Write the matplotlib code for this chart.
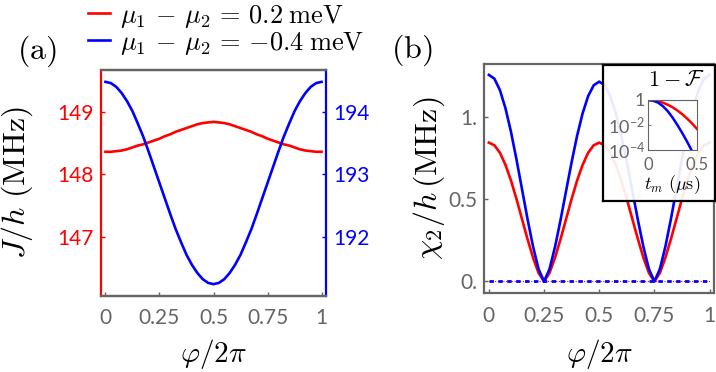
import numpy as np
import matplotlib
matplotlib.use('Agg')
import matplotlib.pyplot as plt
from matplotlib.ticker import FixedLocator, FixedFormatter, NullLocator

plt.rcParams['mathtext.fontset'] = 'cm'
plt.rcParams['font.family'] = ['Lato', 'DejaVu Sans']

# ---------------- data ----------------
phi = np.linspace(0, 1, 41)

# panel (a): J/h (MHz)
J_red = [148.36, 148.36, 148.37, 148.38, 148.40, 148.43, 148.46, 148.48, 148.51, 148.54,
         148.57, 148.61, 148.64, 148.68, 148.71, 148.74, 148.77, 148.80, 148.82, 148.83,
         148.84,
         148.83, 148.82, 148.80, 148.77, 148.74, 148.71, 148.68, 148.64, 148.61, 148.57,
         148.54, 148.51, 148.48, 148.46, 148.43, 148.40, 148.38, 148.37, 148.36, 148.36]
J_blue = [194.48, 194.46, 194.40, 194.30, 194.17, 194.01, 193.81, 193.60, 193.36, 193.11,
          192.86, 192.61, 192.36, 192.12, 191.91, 191.71, 191.55, 191.42, 191.32, 191.26,
          191.24,
          191.26, 191.32, 191.42, 191.55, 191.71, 191.91, 192.12, 192.36, 192.61, 192.86,
          193.11, 193.36, 193.60, 193.81, 194.01, 194.17, 194.30, 194.40, 194.46, 194.48]

# panel (b): chi_2/h (MHz)
chi_red = [0.842, 0.826, 0.781, 0.708, 0.613, 0.501, 0.379, 0.258, 0.145, 0.052, 0.0,
           0.052, 0.145, 0.258, 0.379, 0.501, 0.613, 0.708, 0.781, 0.826, 0.842,
           0.826, 0.781, 0.708, 0.613, 0.501, 0.379, 0.258, 0.145, 0.052, 0.0,
           0.052, 0.145, 0.258, 0.379, 0.501, 0.613, 0.708, 0.781, 0.826, 0.842]
chi_blue = [1.253, 1.230, 1.161, 1.052, 0.909, 0.741, 0.561, 0.380, 0.213, 0.076, 0.0,
            0.076, 0.211, 0.374, 0.550, 0.724, 0.885, 1.021, 1.125, 1.190, 1.212,
            1.190, 1.125, 1.021, 0.885, 0.724, 0.550, 0.374, 0.211, 0.076, 0.0,
            0.076, 0.213, 0.380, 0.561, 0.741, 0.909, 1.052, 1.161, 1.230, 1.253]
chi_ref = [0.0, 0.0]
phi_ref = [0.0, 1.0]

# inset: 1 - F vs t_m (us)
t_m = [0.0, 0.05, 0.10, 0.15, 0.20, 0.25, 0.30, 0.35, 0.40, 0.45, 0.50]
infid_red = [1.0, 0.955, 0.813, 0.617, 0.427, 0.263, 0.145, 0.0724, 0.0324, 0.0132, 0.00479]
infid_blue = [1.0, 0.891, 0.631, 0.331, 0.132, 0.0398, 0.0100, 0.00224, 0.000447, 0.0000794,
              0.00001]
infid_ref = [1.0, 1.0]
t_ref = [0.0, 0.5]

x_ticks = [0, 0.25, 0.5, 0.75, 1]
x_ticklabels = ['0', '0.25', '0.5', '0.75', '1']
red_ticks = [147, 148, 149]
blue_ticks = [192, 193, 194]
chi_ticks = [0, 0.5, 1.0]
chi_ticklabels = ['0.', '0.5', '1.']
legend_labels = [r'$\mu_1\,-\,\mu_2\,=\,0.2\;\mathrm{meV}$',
                 r'$\mu_1\,-\,\mu_2\,=\,{-0.4}\;\mathrm{meV}$']

# ---------------- style ----------------
RED = '#ff0000'
BLUE = '#0000ff'
GRAY = '#656565'
W, H = 716, 372
lw = 1.9
TICK_FS = 15

fig = plt.figure(figsize=(W / 100, H / 100), dpi=100)


def frac(l, t, r, b):
    return [l / W, 1 - b / H, (r - l) / W, (b - t) / H]


# ---------- panel (a) ----------
axa = fig.add_axes(frac(100.5, 70, 326.5, 296))
axa2 = axa.twinx()
l_red, = axa.plot(phi, J_red, color=RED, lw=lw)
l_blue, = axa2.plot(phi, J_blue, color=BLUE, lw=lw)
axa.set_xlim(-0.023, 1.023)
axa.set_ylim(146.05, 149.67)
axa2.set_ylim(191.05, 194.67)
axa.xaxis.set_major_locator(FixedLocator(x_ticks))
axa.xaxis.set_major_formatter(FixedFormatter(x_ticklabels))
axa.yaxis.set_major_locator(FixedLocator(red_ticks))
axa2.yaxis.set_major_locator(FixedLocator(blue_ticks))
for sp in ['top', 'bottom']:
    axa.spines[sp].set_color(GRAY)
    axa2.spines[sp].set_color(GRAY)
axa.spines['left'].set_color(RED)
axa2.spines['left'].set_visible(False)
axa.spines['right'].set_visible(False)
axa2.spines['right'].set_color(BLUE)
for a in (axa, axa2):
    for sp in a.spines.values():
        sp.set_linewidth(1.6)
axa.tick_params(axis='x', direction='in', length=3, width=1, colors=GRAY, labelsize=TICK_FS, pad=9)
axa.tick_params(axis='y', direction='in', length=3, width=1, colors=RED, labelsize=TICK_FS, pad=5)
axa2.tick_params(axis='y', direction='in', length=3, width=1, colors=BLUE, labelsize=TICK_FS, pad=5)
axa.set_xlabel(r'$\varphi/2\pi$', fontsize=21, va='top')
axa.xaxis.set_label_coords(0.5, -0.18)
axa.set_ylabel(r'$J/h\ (\mathrm{MHz})$', fontsize=23)
axa.yaxis.set_label_coords(-0.29, 0.5)

# ---------- panel (b) ----------
axb = fig.add_axes(frac(484, 64, 714, 293))
axb.plot(phi, chi_red, color=RED, lw=lw)
axb.plot(phi, chi_blue, color=BLUE, lw=lw)
axb.plot(phi_ref, chi_ref, color=RED, lw=0.8, ls=(0, (1, 1.5)))
axb.plot(phi_ref, chi_ref, color=BLUE, lw=2.0, ls=(0, (1.6, 1.6)))
axb.set_xlim(-0.022, 1.02)
axb.set_ylim(-0.07, 1.319)
axb.xaxis.set_major_locator(FixedLocator(x_ticks))
axb.xaxis.set_major_formatter(FixedFormatter(x_ticklabels))
axb.yaxis.set_major_locator(FixedLocator(chi_ticks))
axb.yaxis.set_major_formatter(FixedFormatter(chi_ticklabels))
for sp in axb.spines.values():
    sp.set_color(GRAY)
    sp.set_linewidth(1.6)
axb.tick_params(axis='both', direction='in', length=3, width=1, colors=GRAY, labelsize=TICK_FS)
axb.tick_params(axis='x', pad=9)
axb.tick_params(axis='y', pad=5)
axb.set_xlabel(r'$\varphi/2\pi$', fontsize=21, va='top')
axb.xaxis.set_label_coords(0.5, -0.19)
axb.set_ylabel(r'$\chi_2/h\,(\mathrm{MHz})$', fontsize=23)
axb.yaxis.set_label_coords(-0.161, 0.5)

# ---------- inset ----------
box = fig.add_axes(frac(603, 65, 715, 201))
box.set_facecolor((1, 1, 1, 0.92))
box.set_xticks([])
box.set_yticks([])
for sp in box.spines.values():
    sp.set_color('black')
    sp.set_linewidth(1.6)
box.text((676 - 603) / 112, 1 - (80 - 65) / 136, r'$1-\mathcal{F}$', transform=box.transAxes,
         ha='center', va='center', fontsize=16)

axi = fig.add_axes(frac(648, 100, 697, 150))
axi.semilogy(t_m, infid_red, color=RED, lw=1.8)
axi.semilogy(t_m, infid_blue, color=BLUE, lw=1.8)
axi.semilogy(t_ref, infid_ref, color=RED, lw=0.8, ls=(0, (1, 1)))
axi.set_xlim(0, 0.5)
axi.set_ylim(1e-4, 1)
axi.yaxis.set_major_locator(FixedLocator([1e-4, 1e-2, 1]))
axi.yaxis.set_major_formatter(FixedFormatter([r'$\mathdefault{10^{-4}}$',
                                              r'$\mathdefault{10^{-2}}$', '1']))
axi.yaxis.set_minor_locator(NullLocator())
axi.xaxis.set_major_locator(FixedLocator([0, 0.5]))
axi.xaxis.set_major_formatter(FixedFormatter(['0', '0.5']))
for sp in axi.spines.values():
    sp.set_color(GRAY)
    sp.set_linewidth(0.8)
axi.tick_params(axis='both', direction='in', length=2, width=0.6, colors=GRAY, labelsize=13, pad=2)
axi.tick_params(axis='x', labelsize=12, pad=5)
axi.set_xlabel(r'$t_m\ (\mu\mathrm{s})$', fontsize=13, labelpad=0)

# ---------- labels and legend ----------
fig.text(37 / W, 1 - 51 / H, r'$(\mathrm{a})$', fontsize=23, ha='center', va='center')
fig.text(412 / W, 1 - 50 / H, r'$(\mathrm{b})$', fontsize=23, ha='center', va='center')

fig.legend([l_red, l_blue], legend_labels, loc='upper left', bbox_to_anchor=(88 / W, 0.993),
           frameon=False, fontsize=19, handlelength=0.85, handletextpad=0.35,
           labelspacing=0.0, borderaxespad=0.0, borderpad=0.0)

fig.savefig('out.png', dpi=100)
